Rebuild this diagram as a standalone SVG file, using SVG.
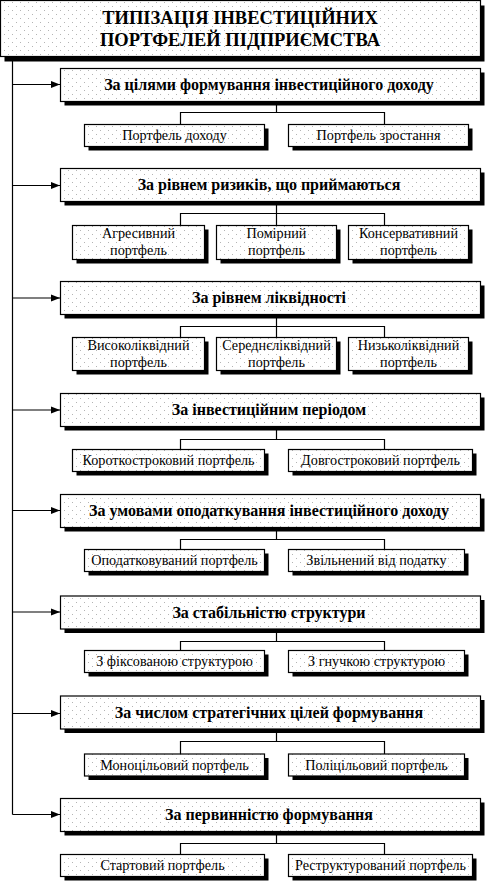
<svg xmlns="http://www.w3.org/2000/svg" width="486" height="882" viewBox="0 0 486 882">
<defs>
<pattern id="dots" width="8" height="8" patternUnits="userSpaceOnUse">
<rect width="8" height="8" fill="#ffffff"/>
<rect x="4" y="2" width="1" height="1" fill="#b4b4b4"/>
<rect x="0" y="6" width="1" height="1" fill="#b4b4b4"/>
</pattern>
<marker id="arr" markerUnits="userSpaceOnUse" markerWidth="10" markerHeight="8" refX="9" refY="4" orient="auto">
<path d="M0,0.5 L9,4 L0,7.5 z" fill="#000"/>
</marker>
</defs>
<style>
.box{fill:url(#dots);stroke:#000;stroke-width:1.2}
.sh{fill:#000}
.ln{fill:none;stroke:#000;stroke-width:1.2}
.t{font-family:"Liberation Serif","Times New Roman",serif;fill:#000;text-anchor:middle}
.tt{font-size:18.5px;font-weight:bold}
.ct{font-size:16px;font-weight:bold}
.kt{font-size:14.2px}
</style>
<rect width="486" height="882" fill="#fff"/>

<g id="connectors">
<path class="ln" d="M12.5,57 V814.5"/>
<path class="ln" marker-end="url(#arr)" d="M12.5,84.5 H60"/>
<path class="ln" marker-end="url(#arr)" d="M12.5,185.5 H60"/>
<path class="ln" marker-end="url(#arr)" d="M12.5,298 H60"/>
<path class="ln" marker-end="url(#arr)" d="M12.5,410 H60"/>
<path class="ln" marker-end="url(#arr)" d="M12.5,510.5 H60"/>
<path class="ln" marker-end="url(#arr)" d="M12.5,612 H60"/>
<path class="ln" marker-end="url(#arr)" d="M12.5,713.5 H60"/>
<path class="ln" marker-end="url(#arr)" d="M12.5,814.5 H60"/>
<path class="ln" d="M276.5,101.5 V112.5 M180.5,124.5 V112.5 H384.5 V124.5"/>
<path class="ln" d="M276.5,201.5 V225.5 M180.5,225.5 V213.5 H384.5 V225.5"/>
<path class="ln" d="M276.5,314.5 V337.5 M180.5,337.5 V326.5 H384.5 V337.5"/>
<path class="ln" d="M276.5,426.5 V439.5 M180.5,449.5 V439.5 H384.5 V449.5"/>
<path class="ln" d="M276.5,527 V539.5 M180.5,549.5 V539.5 H384.5 V549.5"/>
<path class="ln" d="M276.5,628.5 V641.5 M180.5,650.5 V641.5 H384.5 V650.5"/>
<path class="ln" d="M276.5,729 V741.5 M180.5,754 V741.5 H384.5 V754"/>
<path class="ln" d="M276.5,831.5 V843.5 M180.5,854.5 V843.5 H384.5 V854.5"/>
</g>

<g id="title">
<rect class="sh" x="4.5" y="5.5" width="480" height="56"/>
<rect class="box" x="0.5" y="0.5" width="480" height="56"/>
<text class="t tt" x="240" y="23.5">ТИПІЗАЦІЯ ІНВЕСТИЦІЙНИХ</text>
<text class="t tt" x="240" y="46">ПОРТФЕЛЕЙ ПІДПРИЄМСТВА</text>
</g>

<g id="cat1">
<rect class="sh" x="64.5" y="72.5" width="420" height="33"/>
<rect class="box" x="60.5" y="68.5" width="420" height="33"/>
<text class="t ct" x="269" y="90">За цілями формування інвестиційного доходу</text>
</g>
<g id="k1a"><rect class="sh" x="88.5" y="128.5" width="180" height="22"/><rect class="box" x="84.5" y="124.5" width="180" height="22"/><text class="t kt" x="174.5" y="140">Портфель доходу</text></g>
<g id="k1b"><rect class="sh" x="292.5" y="128.5" width="180" height="22"/><rect class="box" x="288.5" y="124.5" width="180" height="22"/><text class="t kt" x="378.5" y="140">Портфель зростання</text></g>

<g id="cat2">
<rect class="sh" x="64.5" y="172.5" width="420" height="33"/>
<rect class="box" x="60.5" y="168.5" width="420" height="33"/>
<text class="t ct" x="269" y="190">За рівнем ризиків, що приймаються</text>
</g>
<g id="k2a"><rect class="sh" x="76.5" y="229.5" width="132" height="34"/><rect class="box" x="72.5" y="225.5" width="132" height="34"/><text class="t kt" x="138.5" y="238">Агресивний</text><text class="t kt" x="138.5" y="255">портфель</text></g>
<g id="k2b"><rect class="sh" x="220.5" y="229.5" width="120" height="34"/><rect class="box" x="216.5" y="225.5" width="120" height="34"/><text class="t kt" x="276.5" y="238">Помірний</text><text class="t kt" x="276.5" y="255">портфель</text></g>
<g id="k2c"><rect class="sh" x="352.5" y="229.5" width="120" height="34"/><rect class="box" x="348.5" y="225.5" width="120" height="34"/><text class="t kt" x="408.5" y="238">Консервативний</text><text class="t kt" x="408.5" y="255">портфель</text></g>

<g id="cat3">
<rect class="sh" x="64.5" y="285.5" width="420" height="33"/>
<rect class="box" x="60.5" y="281.5" width="420" height="33"/>
<text class="t ct" x="269" y="303">За рівнем ліквідності</text>
</g>
<g id="k3a"><rect class="sh" x="76.5" y="341.5" width="132" height="33"/><rect class="box" x="72.5" y="337.5" width="132" height="33"/><text class="t kt" x="138.5" y="350">Високоліквідний</text><text class="t kt" x="138.5" y="367">портфель</text></g>
<g id="k3b"><rect class="sh" x="220.5" y="341.5" width="120" height="33"/><rect class="box" x="216.5" y="337.5" width="120" height="33"/><text class="t kt" x="276.5" y="350">Середнєліквідний</text><text class="t kt" x="276.5" y="367">портфель</text></g>
<g id="k3c"><rect class="sh" x="352.5" y="341.5" width="120" height="33"/><rect class="box" x="348.5" y="337.5" width="120" height="33"/><text class="t kt" x="408.5" y="350">Низьколіквідний</text><text class="t kt" x="408.5" y="367">портфель</text></g>

<g id="cat4">
<rect class="sh" x="64.5" y="397.5" width="420" height="33"/>
<rect class="box" x="60.5" y="393.5" width="420" height="33"/>
<text class="t ct" x="269" y="415">За інвестиційним періодом</text>
</g>
<g id="k4a"><rect class="sh" x="76.5" y="453.5" width="192" height="22"/><rect class="box" x="72.5" y="449.5" width="192" height="22"/><text class="t kt" x="168.5" y="465">Короткостроковий портфель</text></g>
<g id="k4b"><rect class="sh" x="292.5" y="453.5" width="184" height="22"/><rect class="box" x="288.5" y="449.5" width="184" height="22"/><text class="t kt" x="380.5" y="465">Довгостроковий портфель</text></g>

<g id="cat5">
<rect class="sh" x="64.5" y="498.5" width="420" height="33"/>
<rect class="box" x="60.5" y="494.5" width="420" height="33"/>
<text class="t ct" x="269" y="516">За умовами оподаткування інвестиційного доходу</text>
</g>
<g id="k5a"><rect class="sh" x="88.5" y="553.5" width="180" height="22"/><rect class="box" x="84.5" y="549.5" width="180" height="22"/><text class="t kt" x="174.5" y="565">Оподатковуваний портфель</text></g>
<g id="k5b"><rect class="sh" x="292.5" y="553.5" width="176" height="22"/><rect class="box" x="288.5" y="549.5" width="176" height="22"/><text class="t kt" x="376.5" y="565">Звільнений від податку</text></g>

<g id="cat6">
<rect class="sh" x="64.5" y="600" width="420" height="33"/>
<rect class="box" x="60.5" y="596" width="420" height="33"/>
<text class="t ct" x="269" y="617.5">За стабільністю структури</text>
</g>
<g id="k6a"><rect class="sh" x="88.5" y="654.5" width="180" height="22"/><rect class="box" x="84.5" y="650.5" width="180" height="22"/><text class="t kt" x="174.5" y="666">З фіксованою структурою</text></g>
<g id="k6b"><rect class="sh" x="292.5" y="654.5" width="176" height="22"/><rect class="box" x="288.5" y="650.5" width="176" height="22"/><text class="t kt" x="376.5" y="666">З гнучкою структурою</text></g>

<g id="cat7">
<rect class="sh" x="64.5" y="700" width="420" height="33"/>
<rect class="box" x="60.5" y="696" width="420" height="33"/>
<text class="t ct" x="269" y="718">За числом стратегічних цілей формування</text>
</g>
<g id="k7a"><rect class="sh" x="88.5" y="758" width="180" height="22"/><rect class="box" x="84.5" y="754" width="180" height="22"/><text class="t kt" x="174.5" y="770">Моноцільовий портфель</text></g>
<g id="k7b"><rect class="sh" x="292.5" y="758" width="176" height="22"/><rect class="box" x="288.5" y="754" width="176" height="22"/><text class="t kt" x="376.5" y="770">Поліцільовий портфель</text></g>

<g id="cat8">
<rect class="sh" x="64.5" y="802.5" width="420" height="33"/>
<rect class="box" x="60.5" y="798.5" width="420" height="33"/>
<text class="t ct" x="269" y="820">За первинністю формування</text>
</g>
<g id="k8a"><rect class="sh" x="64.5" y="858.5" width="204" height="22"/><rect class="box" x="60.5" y="854.5" width="204" height="22"/><text class="t kt" x="162.5" y="870">Стартовий портфель</text></g>
<g id="k8b"><rect class="sh" x="292.5" y="858.5" width="184" height="22"/><rect class="box" x="288.5" y="854.5" width="184" height="22"/><text class="t kt" x="380.5" y="870">Реструктурований портфель</text></g>
</svg>
